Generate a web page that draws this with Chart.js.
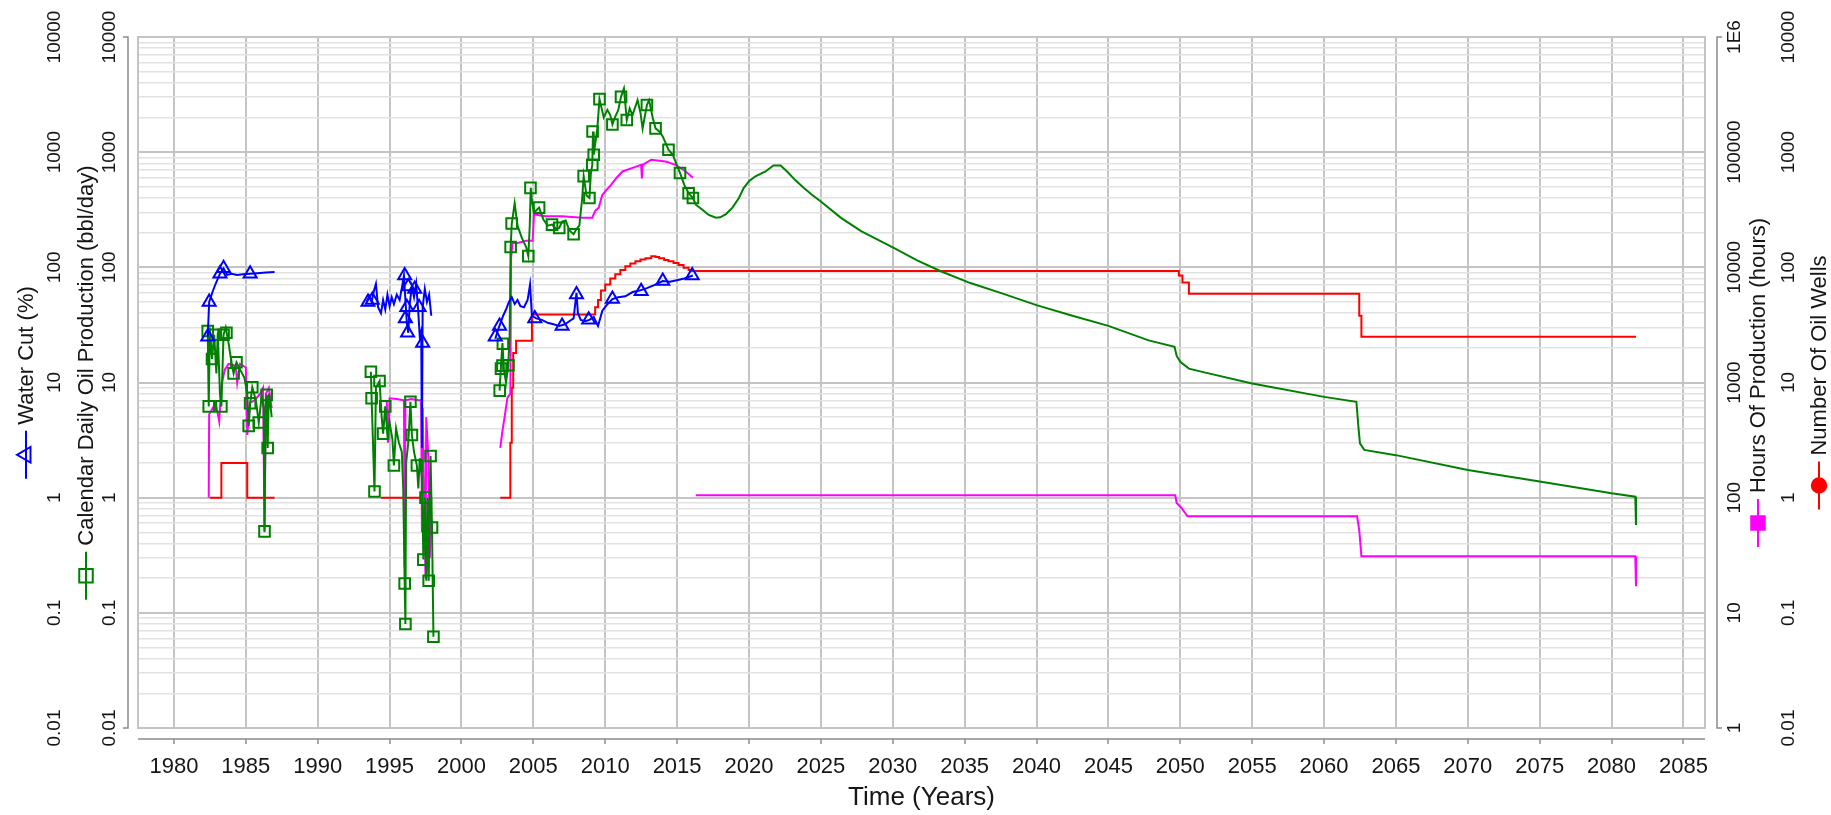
<!DOCTYPE html>
<html>
<head>
<meta charset="utf-8">
<script src="https://cdn.jsdelivr.net/npm/chart.js@4.4.1/dist/chart.umd.min.js"></script>
<style>
  html, body { margin: 0; padding: 0; background: #fff; }
  canvas { display: block; }
</style>
</head>
<body>
<canvas id="chart" width="1831" height="815"></canvas>
<script>
// axis tick labels
const yearTicks = [1980, 1985, 1990, 1995, 2000, 2005, 2010, 2015, 2020, 2025, 2030, 2035,
  2040, 2045, 2050, 2055, 2060, 2065, 2070, 2075, 2080, 2085];
const waterCutTicks = ['0.01', '0.1', '1', '10', '100', '1000', '10000'];
const oilRateTicks = ['0.01', '0.1', '1', '10', '100', '1000', '10000'];
const hoursTicks = ['1', '10', '100', '1000', '10000', '100000', '1E6'];
const wellsTicks = ['0.01', '0.1', '1', '10', '100', '1000', '10000'];

// series as [year, value]; a null value breaks the line
const waterCut = [
  [1982.35, 25], [1982.45, 50], [1982.7, 62], [1982.9, 72], [1983.2, 88], [1983.45, 98],
  [1983.7, 86], [1984.0, 88], [1984.4, 86], [1984.8, 87], [1985.3, 88], [1985.8, 89],
  [1986.4, 90], [1987.0, 91], [1989, null],
  [1993.4, 50], [1993.6, 56], [1993.75, 50], [1993.9, 62], [1994.05, 72], [1994.2, 45],
  [1994.4, 40], [1994.55, 52], [1994.7, 43], [1994.85, 58], [1995.0, 46], [1995.15, 55],
  [1995.3, 48], [1995.5, 58], [1995.7, 52], [1995.85, 66], [1996.0, 85], [1996.1, 52],
  [1996.2, 33], [1996.3, 27], [1996.4, 48], [1996.55, 68], [1996.7, 55], [1996.85, 72],
  [1997.0, 40], [1997.1, 25], [1997.2, 28], [1997.25, 2.7], [1997.3, 45], [1997.45, 65],
  [1997.6, 50], [1997.75, 58], [1997.9, 38], [2000, null],
  [2002.35, 24], [2002.6, 30], [2002.9, 38], [2003.1, 43], [2003.3, 50], [2003.5, 55],
  [2003.7, 48], [2003.9, 52], [2004.1, 46], [2004.35, 45], [2004.6, 52], [2004.77, 71],
  [2004.9, 38], [2005.2, 36], [2005.6, 35], [2006.0, 33], [2006.4, 32], [2006.8, 31],
  [2007.2, 32], [2007.5, 34], [2007.8, 36], [2008.0, 60], [2008.1, 40], [2008.3, 35],
  [2008.6, 34], [2008.9, 35], [2009.2, 37], [2009.5, 31], [2009.8, 42], [2010.1, 47],
  [2010.5, 53], [2010.9, 55], [2011.4, 56], [2011.9, 61], [2012.4, 63], [2012.9, 66],
  [2013.4, 70], [2014.0, 76], [2014.5, 75], [2014.9, 77], [2015.5, 80], [2016.1, 85]
];
const waterCutMarks = [
  [1982.35, 25], [1982.45, 50], [1983.2, 88], [1983.45, 98], [1985.3, 88],
  [1993.5, 50], [1993.8, 52], [1996.05, 85], [1996.3, 68], [1996.75, 65], [1996.2, 45],
  [1996.1, 36], [1996.25, 27], [1997.05, 45], [1997.3, 22],
  [2002.35, 25], [2002.65, 31], [2005.1, 36], [2007.0, 31], [2008.0, 58], [2008.85, 35],
  [2010.5, 53], [2012.5, 62], [2014.0, 76], [2016.05, 85]
];

const oilRate = [
  [1982.35, 28], [1982.42, 6.2], [1982.5, 30], [1982.65, 16], [1982.8, 26], [1982.95, 12],
  [1983.05, 27], [1983.2, 8], [1983.3, 6.2], [1983.45, 26], [1983.6, 30], [1983.8, 22],
  [1984.0, 15], [1984.15, 12], [1984.35, 15], [1984.6, 13], [1984.9, 11], [1985.1, 8],
  [1985.2, 4.2], [1985.3, 6.6], [1985.45, 9.1], [1985.7, 7], [1985.9, 4.5], [1986.1, 7.5],
  [1986.25, 6], [1986.3, 0.51], [1986.38, 6.5], [1986.45, 7.8], [1986.52, 2.7], [1986.6, 8],
  [1986.7, 6.5], [1986.8, 5], [1989, null],
  [1993.7, 12.4], [1993.75, 7.3], [1993.95, 1.13], [1994.05, 9], [1994.3, 10.3], [1994.45, 5],
  [1994.55, 3.6], [1994.7, 6.2], [1994.85, 3.5], [1995.0, 4.5], [1995.2, 3.2], [1995.3, 1.9],
  [1995.45, 4], [1995.65, 3], [1995.85, 2.5], [1995.95, 1.2], [1996.05, 0.18], [1996.1, 0.08],
  [1996.15, 2], [1996.3, 3], [1996.45, 6.8], [1996.55, 3.5], [1996.7, 2.5], [1996.9, 1.9],
  [1997.0, 1.2], [1997.1, 2.2], [1997.25, 1.5], [1997.35, 0.29], [1997.45, 1.0], [1997.55, 0.19],
  [1997.65, 1.0], [1997.72, 0.19], [1997.85, 2.3], [1997.95, 0.55], [1998.05, 0.062], [2000, null],
  [2002.65, 8.5], [2002.75, 14], [2002.85, 22], [2002.95, 13], [2003.1, 10], [2003.25, 14],
  [2003.35, 25], [2003.42, 150], [2003.5, 240], [2003.7, 360], [2003.9, 230], [2004.2, 180],
  [2004.5, 150], [2004.65, 125], [2004.75, 230], [2004.82, 490], [2004.9, 380], [2005.05, 300],
  [2005.4, 330], [2005.7, 260], [2006.0, 230], [2006.3, 235], [2006.6, 215], [2006.8, 220],
  [2007.0, 250], [2007.25, 255], [2007.5, 210], [2007.8, 194], [2008.0, 215], [2008.2, 230],
  [2008.4, 400], [2008.5, 620], [2008.7, 420], [2008.9, 400], [2009.0, 650], [2009.1, 775],
  [2009.15, 1510], [2009.2, 950], [2009.35, 1300], [2009.45, 1600], [2009.6, 2890], [2009.75, 2400],
  [2009.9, 2000], [2010.15, 2330], [2010.35, 2100], [2010.5, 1740], [2010.7, 2040], [2010.9, 2300],
  [2011.1, 3020], [2011.3, 3570], [2011.5, 1900], [2011.7, 2400], [2011.9, 2100], [2012.25, 2830],
  [2012.45, 2200], [2012.6, 1610], [2012.9, 2570], [2013.05, 2830], [2013.3, 2000], [2013.5, 1610],
  [2013.8, 1500], [2014.0, 1370], [2014.4, 1050], [2014.7, 950], [2015.0, 760], [2015.2, 660],
  [2015.5, 520], [2015.8, 440], [2016.1, 400], [2016.3, 350], [2016.76, 316], [2017.2, 285],
  [2017.7, 270], [2018.0, 272], [2018.4, 290], [2018.85, 330], [2019.3, 400], [2019.64, 490],
  [2020.0, 560], [2020.45, 617], [2021.15, 680], [2021.7, 765], [2022.2, 765], [2022.65, 680],
  [2023.2, 575], [2023.8, 490], [2024.4, 425], [2025.0, 373], [2026.4, 269], [2027.8, 206],
  [2030.1, 147], [2031.7, 115], [2033.3, 93], [2035.4, 73], [2037.5, 60], [2040, 47],
  [2042.5, 38], [2045, 31], [2047.8, 23.2], [2049.6, 20.4], [2049.75, 17], [2050.0, 15.1],
  [2050.6, 13.2], [2051.6, 12.3], [2055, 9.8], [2060, 7.5], [2062.25, 6.8], [2062.4, 4],
  [2062.5, 2.96], [2062.8, 2.6], [2065, 2.34], [2070, 1.74], [2075, 1.38], [2080, 1.09],
  [2081.65, 1.02], [2081.7, 0.58]
];
const oilRateMarks = [
  [1982.35, 28], [1982.42, 6.2], [1982.65, 16], [1982.8, 26], [1983.3, 6.2], [1983.45, 26],
  [1983.65, 27], [1984.15, 12], [1984.35, 15], [1985.2, 4.2], [1985.3, 6.6], [1985.45, 9.1],
  [1985.9, 4.5], [1986.3, 0.51], [1986.45, 7.8], [1986.52, 2.7],
  [1993.7, 12.4], [1993.75, 7.3], [1994.3, 10.3], [1993.95, 1.13], [1994.55, 3.6], [1994.7, 6.2],
  [1995.3, 1.9], [1996.45, 6.8], [1996.55, 3.5], [1996.9, 1.9], [1996.05, 0.18], [1996.1, 0.08],
  [1997.35, 0.29], [1997.72, 0.19], [1997.85, 2.3], [1997.95, 0.55], [1998.05, 0.062], [1997.5, 1.0],
  [2002.66, 8.5], [2002.75, 13.2], [2002.85, 14], [2002.88, 21.7], [2003.27, 14.1], [2003.42, 150],
  [2003.49, 240], [2004.65, 125], [2004.8, 490], [2005.4, 330], [2006.3, 235], [2006.8, 220],
  [2007.8, 194], [2008.5, 620], [2008.9, 400], [2009.1, 775], [2009.2, 950], [2009.12, 1510],
  [2009.6, 2890], [2010.5, 1740], [2011.1, 3020], [2011.5, 1900], [2012.9, 2570], [2013.5, 1610],
  [2014.4, 1050], [2015.2, 660], [2015.8, 440], [2016.1, 400]
];

const prodHours = [
  [1982.42, 100], [1982.45, 530], [1982.9, 660], [1983.15, 460], [1983.3, 950], [1983.55, 1300],
  [1983.8, 1450], [1984.3, 1400], [1984.4, 1000], [1984.6, 1450], [1985.0, 1350], [1985.1, 350],
  [1985.3, 670], [1985.6, 700], [1986.0, 800], [1986.2, 900], [1986.3, 50], [1986.4, 800],
  [1986.6, 900], [1986.8, 600], [1989, null],
  [1994.8, 700], [1994.9, 300], [1995.0, 730], [1995.5, 720], [1996.0, 700], [1996.05, 25],
  [1996.1, 700], [1996.5, 720], [1997.0, 700], [1997.2, 700], [1997.25, 50], [1997.3, 600],
  [1997.5, 20], [1997.55, 500], [1997.7, 220], [1997.8, 30], [1997.9, 100], [2000, null],
  [2002.7, 270], [2002.85, 380], [2003.0, 500], [2003.2, 740], [2003.4, 800], [2003.45, 12000],
  [2003.55, 16300], [2003.9, 16300], [2004.5, 17000], [2004.95, 17000], [2005.05, 28800],
  [2005.86, 27800], [2007.0, 27800], [2008.4, 26900], [2009.1, 27000], [2009.3, 30900],
  [2009.55, 33000], [2009.8, 42700], [2010.1, 47000], [2010.4, 52000], [2010.8, 60000],
  [2011.2, 68000], [2011.9, 73000], [2012.5, 77500], [2012.55, 59000], [2012.6, 77500],
  [2013.2, 86000], [2014.2, 83000], [2014.9, 77500], [2015.6, 68000], [2016.1, 60000], [2016.2, null],
  [2016.3, 105], [2049.65, 105], [2049.75, 90], [2050.1, 81], [2050.5, 69], [2062.3, 69],
  [2062.45, 52], [2062.6, 31], [2081.65, 31], [2081.7, 17]
];

const oilWells = [
  [1982.5, 1], [1983.3, 2], [1985.1, 1], [1987.0, 1], [1989, null],
  [1994.4, 1], [1997.3, 1], [2000, null],
  [2002.7, 1], [2003.4, 3], [2003.5, 9], [2003.6, 18], [2003.8, 23], [2004.9, 39], [2009.3, 45],
  [2009.5, 52], [2009.7, 63], [2010.0, 71], [2010.35, 80], [2010.7, 87], [2011.05, 95],
  [2011.4, 102], [2011.75, 108], [2012.1, 113], [2012.45, 117], [2012.8, 120], [2013.2, 125],
  [2013.5, 123], [2013.75, 120], [2014.1, 116], [2014.4, 113], [2014.75, 109], [2015.1, 105],
  [2015.45, 99], [2015.8, 95], [2016.05, 93], [2049.9, 85], [2050.15, 74], [2050.6, 59],
  [2062.45, 38], [2062.6, 25], [2081.7, 25]
];

const FONT = '"Liberation Sans", Arial, Helvetica, sans-serif';
const TEXT = '#161616';
const GRID_MAJOR = '#c4c4c4';
const GRID_MINOR = '#e2e2e2';
const AXIS_LINE = '#8c8c8c';

const pts = arr => arr.map(([x, y]) => ({ x, y }));
const isDecade = v => Math.abs(Math.log10(v) - Math.round(Math.log10(v))) < 1e-6;

// gridline ticks 1..9 per decade between the labelled decades
function logGrid(labels) {
  const decades = labels.map(Number);
  const out = [];
  decades.forEach((d, i) => {
    if (i === decades.length - 1) { out.push(d); return; }
    for (let k = 1; k < 10; k++) out.push(d * k);
  });
  return out;
}

function sideScale(position, weight, labels, width, drawGrid) {
  const vals = labels.map(Number);
  return {
    type: 'logarithmic',
    position,
    weight,
    min: vals[0],
    max: vals[vals.length - 1],
    afterBuildTicks: s => { s.ticks = logGrid(labels).map(v => ({ value: v })); },
    afterFit: s => { s.width = width; },
    ticks: { display: false, autoSkip: false },
    border: { display: false },
    grid: drawGrid ? {
      drawTicks: false,
      color: c => (c.tick && isDecade(c.tick.value)) ? GRID_MAJOR : GRID_MINOR,
      lineWidth: c => (c.tick && isDecade(c.tick.value)) ? 2 : 1.5
    } : { display: false }
  };
}

// rotated tick labels, axis titles with legend samples
const sideAxes = [
  { id: 'yWC', labels: waterCutTicks, labelX: 55, titleX: 26, title: 'Water Cut (%)', color: '#0000ff', marker: 'triangle', filled: false },
  { id: 'yOil', labels: oilRateTicks, labelX: 40, titleX: 16, title: 'Calendar Daily Oil Production (bbl/day)', color: '#008000', marker: 'rect', filled: false },
  { id: 'yHours', labels: hoursTicks, labelX: 30, titleX: 53, title: 'Hours Of Production (hours)', color: '#ff00ff', marker: 'rect', filled: true },
  { id: 'yWells', labels: wellsTicks, labelX: 19, titleX: 49, title: 'Number Of Oil Wells', color: '#ff0000', marker: 'circle', filled: true }
];

function drawMarker(ctx, kind, x, y, r) {
  ctx.beginPath();
  if (kind === 'triangle') {
    ctx.moveTo(x, y - r);
    ctx.lineTo(x + r * 0.866, y + r * 0.5);
    ctx.lineTo(x - r * 0.866, y + r * 0.5);
    ctx.closePath();
  } else if (kind === 'rect') {
    const h = r * 0.75;
    ctx.rect(x - h, y - h, 2 * h, 2 * h);
  } else {
    ctx.arc(x, y, r * 0.8, 0, Math.PI * 2);
  }
}

const axisDecor = {
  id: 'axisDecor',
  beforeDatasetsDraw(chart) {
    const { ctx, chartArea: a } = chart;
    ctx.save();
    ctx.strokeStyle = GRID_MAJOR;
    ctx.lineWidth = 2;
    ctx.strokeRect(a.left, a.top, a.right - a.left, a.bottom - a.top);
    ctx.restore();
  },
  afterDraw(chart) {
    const { ctx, chartArea: a, scales } = chart;
    ctx.save();
    ctx.strokeStyle = AXIS_LINE;
    ctx.lineWidth = 1.5;
    ctx.beginPath();
    const lx = a.left - 10;
    ctx.moveTo(lx - 5, a.top); ctx.lineTo(lx, a.top); ctx.lineTo(lx, a.bottom); ctx.lineTo(lx - 5, a.bottom);
    const rx = a.right + 12;
    ctx.moveTo(rx + 5, a.top); ctx.lineTo(rx, a.top); ctx.lineTo(rx, a.bottom); ctx.lineTo(rx + 5, a.bottom);
    const by = a.bottom + 11;
    ctx.moveTo(a.left, by); ctx.lineTo(a.right, by);
    scales.x.ticks.forEach(t => {
      const px = Math.round(scales.x.getPixelForValue(t.value));
      ctx.moveTo(px, by); ctx.lineTo(px, by + 5);
    });
    ctx.stroke();

    const cy = (a.top + a.bottom) / 2;
    sideAxes.forEach(ax => {
      const s = scales[ax.id];
      ctx.fillStyle = TEXT;
      ctx.font = '19px ' + FONT;
      ctx.textAlign = 'center';
      ctx.textBaseline = 'middle';
      ax.labels.forEach(lbl => {
        const py = s.getPixelForValue(Number(lbl));
        ctx.save();
        ctx.translate(s.left + ax.labelX, py);
        ctx.rotate(-Math.PI / 2);
        ctx.fillText(lbl, 0, 0);
        ctx.restore();
      });

      ctx.font = '22px ' + FONT;
      const tw = ctx.measureText(ax.title).width;
      const L = 48, gap = 6;
      const x0 = -(L + gap + tw) / 2;
      ctx.save();
      ctx.translate(s.left + ax.titleX, cy);
      ctx.rotate(-Math.PI / 2);
      ctx.strokeStyle = ax.color;
      ctx.lineWidth = 2;
      ctx.beginPath();
      ctx.moveTo(x0, 0); ctx.lineTo(x0 + L, 0);
      ctx.stroke();
      drawMarker(ctx, ax.marker, x0 + L / 2, 0, 9);
      if (ax.filled) { ctx.fillStyle = ax.color; ctx.fill(); }
      ctx.stroke();
      ctx.fillStyle = TEXT;
      ctx.textAlign = 'left';
      ctx.fillText(ax.title, x0 + L + gap, 1);
      ctx.restore();
    });
    ctx.restore();
  }
};

const lineSet = (data, axis, color) => ({
  data: pts(data), yAxisID: axis, borderColor: color, borderWidth: 2,
  pointRadius: 0, tension: 0, spanGaps: false, fill: false
});
const markSet = (data, axis, color, style, radius) => ({
  data: pts(data), yAxisID: axis, showLine: false, pointStyle: style, pointRadius: radius,
  pointBorderColor: color, pointBackgroundColor: 'rgba(0,0,0,0)', pointBorderWidth: 2
});

new Chart(document.getElementById('chart').getContext('2d'), {
  type: 'line',
  data: {
    datasets: [
      markSet(waterCutMarks, 'yWC', '#0000ff', 'triangle', 7.5),
      lineSet(waterCut, 'yWC', '#0000ff'),
      markSet(oilRateMarks, 'yOil', '#008000', 'rect', 7.5),
      lineSet(oilRate, 'yOil', '#008000'),
      lineSet(prodHours, 'yHours', '#ff00ff'),
      Object.assign(lineSet(oilWells, 'yWells', '#ff0000'), { stepped: true })
    ]
  },
  options: {
    responsive: false,
    animation: false,
    events: [],
    layout: { padding: { top: 37, left: 0, right: 0, bottom: 0 } },
    plugins: { legend: { display: false }, tooltip: { enabled: false } },
    scales: {
      x: {
        type: 'linear',
        position: 'bottom',
        min: 1977.5,
        max: 2086.5,
        afterBuildTicks: s => { s.ticks = yearTicks.map(v => ({ value: v })); },
        afterFit: s => { s.height = 87; },
        grid: { color: GRID_MAJOR, lineWidth: 2, drawTicks: false },
        border: { display: false },
        ticks: {
          autoSkip: false, maxRotation: 0, padding: 26, color: TEXT,
          font: { family: FONT, size: 22 },
          callback: v => String(v)
        },
        title: {
          display: true, text: 'Time (Years)', color: TEXT,
          font: { family: FONT, size: 26 }, padding: { top: 0, bottom: 2 }
        }
      },
      yWC: sideScale('left', 1, waterCutTicks, 70, false),
      yOil: sideScale('left', 0, oilRateTicks, 68, true),
      yHours: sideScale('right', 0, hoursTicks, 65, false),
      yWells: sideScale('right', 1, wellsTicks, 61, false)
    }
  },
  plugins: [axisDecor]
});
</script>
</body>
</html>
